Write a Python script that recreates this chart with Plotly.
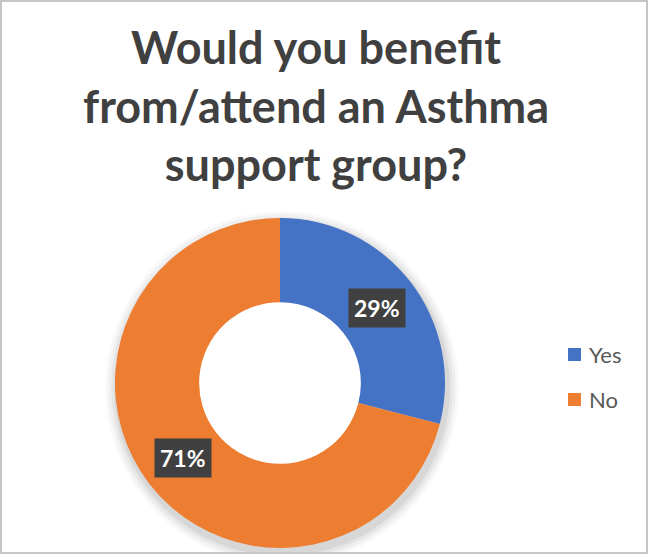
import math
import plotly.graph_objects as go

# Survey responses
labels = ["Yes", "No"]
values = [29, 71]
colors = ["#4472C4", "#ED7D31"]
title_lines = ["Would you benefit", "from/attend an Asthma", "support group?"]

W, H = 648, 554
# donut geometry in pixels
cx, cy = 280, 383
r_out = 165
hole = 0.49
r_in = r_out * hole
r_mid = r_out * (1 + hole) / 2


def circle(x, y, r, fill):
    return dict(
        type="circle", xref="paper", yref="paper", layer="below",
        x0=(x - r) / W, x1=(x + r) / W,
        y0=1 - (y + r) / H, y1=1 - (y - r) / H,
        fillcolor=fill, line_width=0,
    )


fig = go.Figure()

# soft drop shadow under the ring, with the centre kept white
for grow, op in [(12, 0.025), (9, 0.035), (6, 0.045), (3, 0.06)]:
    fig.add_shape(**circle(cx + 2, cy + 5, r_out + grow, f"rgba(0,0,0,{op})"))
fig.add_shape(**circle(cx, cy, r_in + 1, "white"))

fig.add_trace(go.Pie(
    labels=labels,
    values=values,
    hole=hole,
    sort=False,
    direction="clockwise",
    rotation=0,
    marker=dict(colors=colors, line=dict(width=0)),
    textinfo="none",
    hoverinfo="label+percent",
    showlegend=False,
    domain=dict(x=[(cx - r_out) / W, (cx + r_out) / W],
                y=[1 - (cy + r_out) / H, 1 - (cy - r_out) / H]),
))

# percentage labels in dark boxes at each slice's mid angle
total = sum(values)
cum = 0
for v in values:
    mid = (cum + v / 2) / total * 2 * math.pi
    cum += v
    px = cx + r_mid * math.sin(mid)
    py = cy - r_mid * math.cos(mid)
    fig.add_annotation(
        x=px / W, y=1 - py / H, xref="paper", yref="paper",
        text=f"<b>{round(v / total * 100)}%</b>", showarrow=False,
        font=dict(family="Lato", size=23, color="white"),
        bgcolor="#404040", borderpad=5,
        xanchor="center", yanchor="middle",
    )

# legend drawn as swatches and labels
legend_x = 568
legend_y = [354.5, 399.5]
for lab, col, ly in zip(labels, colors, legend_y):
    fig.add_shape(
        type="rect", xref="paper", yref="paper",
        x0=legend_x / W, x1=(legend_x + 13) / W,
        y0=1 - (ly + 6.5) / H, y1=1 - (ly - 6.5) / H,
        fillcolor=col, line_width=0,
    )
    fig.add_annotation(
        x=(legend_x + 19) / W, y=1 - ly / H, xref="paper", yref="paper",
        text=lab, showarrow=False, xanchor="left", yanchor="middle",
        font=dict(family="Lato", size=22, color="#595959"),
    )

# chart title
fig.add_annotation(
    x=316 / W, y=1 - 18 / H, xref="paper", yref="paper",
    text="<b>" + "<br>".join(title_lines) + "</b>", showarrow=False,
    xanchor="center", yanchor="top", align="center",
    font=dict(family="Lato", size=45, color="#404040"),
)

# outer border
fig.add_shape(
    type="rect", xref="paper", yref="paper",
    x0=1 / W, x1=1 - 1 / W, y0=1 / H, y1=1 - 1 / H,
    line=dict(color="#C6C6C6", width=2), fillcolor="rgba(0,0,0,0)",
)

fig.update_layout(
    width=W, height=H,
    margin=dict(l=0, r=0, t=0, b=0),
    paper_bgcolor="white", plot_bgcolor="white",
)

fig.write_html("out.html")
